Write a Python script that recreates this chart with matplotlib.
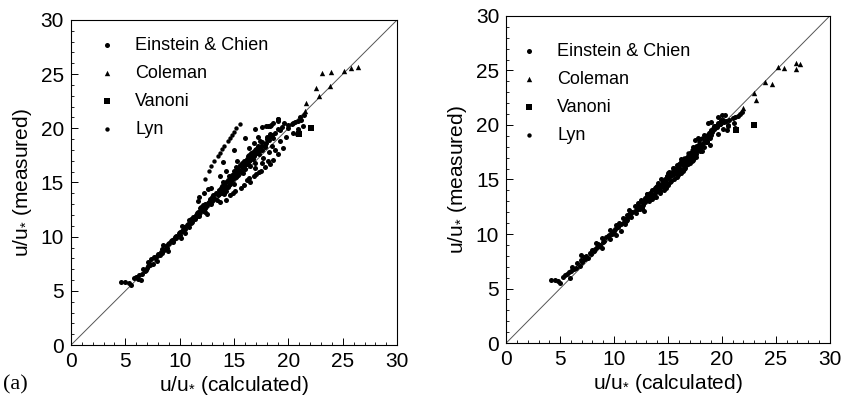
import numpy as np
import matplotlib
matplotlib.use("Agg")
import matplotlib.pyplot as plt

plt.rcParams['font.family'] = ['Liberation Sans', 'DejaVu Sans']
plt.rcParams['mathtext.fontset'] = 'custom'
plt.rcParams['mathtext.rm'] = 'Liberation Sans'
plt.rcParams['mathtext.it'] = 'Liberation Sans'

# Einstein & Chien: measured u/u*, calculated in (a) and (b)
ec_meas = [5.8, 5.8, 5.7, 5.5, 6.2, 6.1, 6.0, 6.6, 6.8, 7.0, 7.3, 7.6, 7.9, 8.0, 7.8,
           8.1, 7.5, 8.3, 8.6, 8.8, 9.0, 8.7, 9.2, 9.4, 9.6, 9.8, 9.5, 10.0, 10.2, 9.9,
           10.4, 10.6, 10.3, 10.8, 11.0, 11.1, 10.9, 11.3, 11.5, 11.6, 11.8, 12.0, 11.9, 12.2, 12.4,
           12.3, 12.6, 12.5, 12.8, 12.1, 12.9, 13.1, 13.0, 13.3, 13.5, 13.4, 13.7, 13.8, 14.0, 14.1,
           13.9, 14.3, 14.4, 14.2, 14.6, 14.7, 14.8, 15.0, 15.1, 14.9, 15.3, 15.4, 15.5, 15.6, 15.8,
           15.7, 16.0, 16.1, 15.9, 16.3, 16.4, 16.2, 16.6, 16.7, 16.5, 16.9, 17.0, 17.2, 16.8, 17.4,
           17.5, 17.7, 17.8, 17.6, 18.0, 18.2, 18.4, 18.6, 18.8, 18.5, 19.0, 19.3, 19.1, 19.6, 19.8,
           20.2, 20.3, 20.5, 20.7, 20.9, 20.4, 20.6, 20.8, 21.2, 20.0, 15.2, 15.6, 16.0, 16.4, 16.7,
           17.1, 17.6, 14.5, 14.0, 13.4, 18.2, 19.5, 19.7,
           6.3, 6.5, 6.9, 7.1, 7.4, 7.7, 8.2, 8.4, 8.5, 8.9, 9.1, 9.3, 9.7, 9.9, 10.1,
           10.3, 10.5, 10.7, 10.9, 11.2, 11.4, 11.6, 11.7, 11.9, 12.1, 12.3, 12.4, 12.6, 12.7, 12.9,
           13.0, 13.2, 13.3, 13.5, 13.6, 13.8, 13.9, 14.0, 14.2, 14.3, 14.5, 14.6, 14.8, 14.9, 15.0,
           15.2, 15.3, 15.5, 15.6, 15.7, 15.9, 16.0, 16.1, 16.2, 16.3, 16.4, 16.5, 16.6, 16.7, 16.8,
           16.9, 17.0, 17.1, 17.2, 17.3, 17.4, 17.5, 17.7, 17.8, 17.9, 18.0, 18.1, 18.3, 18.4, 18.6,
           18.7, 18.9, 19.2, 19.4, 19.9, 20.1, 20.3, 20.5, 20.7, 21.0,
           14.2, 14.8, 15.0, 15.4, 15.8, 16.1, 16.3, 16.8, 17.0, 17.3, 17.8, 18.0, 18.4, 18.8, 19.2,
           19.6, 19.9, 20.2, 13.8, 13.2,
           14.0, 14.4, 14.5, 13.7, 13.3, 15.6, 16.1, 16.9, 17.0, 18.0, 18.2, 19.1, 19.2, 19.9, 20.1,
           20.2, 20.2, 20.5, 20.9, 19.5]
ec_calc_a = [4.6, 5.0, 5.3, 5.5, 5.8, 6.2, 6.4, 6.5, 6.8, 6.6, 7.1, 7.2, 7.4, 7.7, 7.9,
             7.6, 7.5, 8.2, 8.3, 8.6, 8.8, 8.9, 8.5, 9.0, 9.2, 9.5, 9.4, 9.6, 10.0, 10.1,
             10.0, 10.3, 10.5, 10.4, 10.2, 10.7, 10.9, 11.0, 10.9, 11.4, 11.2, 11.5, 11.8, 11.6, 12.0,
             12.3, 11.9, 12.2, 12.4, 12.5, 12.1, 12.6, 12.9, 12.8, 13.1, 13.4, 13.0, 13.5, 13.3, 13.8,
             14.1, 13.6, 14.0, 14.3, 14.2, 13.9, 14.5, 14.3, 14.7, 15.0, 14.6, 14.9, 15.2, 14.5, 15.0,
             15.4, 15.1, 15.5, 15.8, 15.3, 15.7, 16.0, 15.9, 16.2, 16.5, 16.1, 16.4, 16.7, 16.9, 16.3,
             16.8, 16.6, 17.0, 17.3, 16.9, 17.2, 17.5, 16.8, 17.4, 17.8, 18.0, 18.3, 18.6, 18.8, 19.2,
             18.1, 18.4, 19.6, 19.0, 19.0, 20.3, 20.6, 21.2, 21.4, 20.0, 16.2, 16.8, 17.3, 17.8, 18.3,
             18.6, 19.0, 15.6, 14.9, 14.3, 19.5, 20.8, 21.0,
             6.0, 6.3, 6.9, 7.0, 7.3, 7.1, 7.9, 8.0, 8.4, 8.4, 8.7, 8.9, 9.3, 9.7, 9.7,
             9.9, 10.2, 10.5, 10.4, 10.8, 11.1, 11.0, 11.3, 11.6, 11.8, 11.7, 12.2, 12.3, 12.0, 12.5,
             12.3, 12.7, 13.0, 12.8, 13.2, 13.1, 13.6, 13.9, 13.7, 14.2, 13.8, 14.4, 14.1, 14.6, 14.0,
             14.4, 14.9, 14.7, 15.1, 14.8, 15.3, 15.6, 15.0, 15.4, 15.8, 15.2, 15.9, 15.5, 16.0, 15.7,
             16.3, 15.9, 16.5, 16.2, 16.6, 16.8, 16.4, 17.1, 16.7, 17.3, 17.6, 17.0, 17.8, 17.2, 17.9,
             17.6, 18.2, 18.0, 18.5, 19.0, 19.4, 20.0, 20.4, 20.9, 21.1,
             15.1, 15.9, 16.5, 16.4, 17.0, 17.5, 16.9, 17.6, 18.1, 17.7, 18.2, 18.8, 18.5, 19.2, 19.8,
             20.4, 20.9, 21.3, 14.6, 13.7,
             12.2, 12.6, 12.9, 11.8, 11.7, 13.7, 14.3, 14.0, 15.3, 15.0, 16.4, 16.0, 17.2, 16.9, 17.6,
             17.9, 18.3, 18.6, 19.0, 18.3]
ec_calc_b = [4.2, 4.5, 4.8, 5.0, 5.5, 5.3, 5.9, 6.0, 6.3, 6.1, 6.6, 6.9, 7.2, 7.4, 7.6,
             6.9, 7.0, 7.8, 8.2, 8.4, 8.7, 8.9, 8.3, 9.1, 8.9, 9.4, 9.6, 9.8, 9.9, 10.2,
             9.6, 10.4, 10.6, 10.2, 10.5, 10.9, 11.0, 11.2, 10.8, 11.3, 11.5, 11.7, 12.0, 11.4, 12.1,
             12.4, 11.9, 12.6, 12.2, 12.8, 12.9, 12.5, 13.2, 13.0, 13.4, 13.7, 13.1, 13.8, 13.5, 14.0,
             14.3, 13.9, 14.5, 14.2, 14.6, 14.1, 14.8, 14.7, 15.0, 15.3, 14.9, 15.4, 15.6, 15.0, 15.5,
             15.9, 15.7, 16.0, 16.2, 15.8, 16.3, 16.5, 16.4, 16.8, 17.0, 16.6, 16.9, 17.2, 17.3, 17.0,
             17.5, 17.3, 17.8, 18.0, 17.6, 17.9, 18.3, 17.5, 17.8, 18.6, 18.4, 18.8, 19.0, 19.3, 19.5,
             18.7, 19.0, 19.9, 19.6, 20.0, 20.4, 21.0, 21.5, 21.9, 20.6, 15.8, 16.2, 16.5, 16.9, 17.2,
             17.6, 18.2, 15.0, 14.6, 13.9, 18.9, 20.5, 21.2,
             5.6, 5.8, 6.5, 6.8, 7.0, 7.3, 7.9, 8.1, 8.0, 8.6, 8.5, 9.0, 9.3, 9.5, 9.8,
             10.0, 10.1, 10.4, 10.6, 11.1, 11.0, 11.6, 11.2, 11.5, 11.9, 12.2, 12.6, 12.3, 12.7, 12.6,
             12.8, 13.1, 13.4, 13.2, 13.6, 13.3, 13.9, 14.2, 13.8, 14.4, 14.3, 14.9, 14.5, 14.6, 14.4,
             15.1, 15.2, 15.3, 15.7, 15.1, 15.6, 16.1, 15.9, 15.9, 16.4, 16.0, 16.6, 16.2, 16.7, 16.5,
             17.0, 16.7, 17.2, 16.9, 17.4, 17.1, 17.6, 17.7, 17.4, 17.9, 18.1, 17.7, 18.2, 18.5, 18.4,
             18.0, 18.7, 18.9, 19.1, 19.4, 19.8, 20.2, 20.7, 21.2, 21.7,
             14.8, 15.2, 15.6, 15.9, 16.4, 16.6, 16.7, 17.1, 17.4, 17.6, 18.0, 18.3, 18.6, 18.9, 19.6,
             20.1, 20.6, 21.1, 14.3, 13.5,
             13.8, 14.0, 14.3, 13.1, 12.9, 15.1, 15.5, 16.2, 16.8, 17.3, 17.9, 18.3, 18.8, 19.3, 19.8,
             19.6, 19.9, 20.1, 20.3, 19.0]

# Coleman
col_meas = [21.6, 22.3, 22.95, 23.75, 23.9, 25.1, 25.2, 25.3, 25.6, 25.7]
col_calc_a = [21.5, 21.6, 22.85, 22.5, 23.8, 23.1, 23.9, 25.15, 25.8, 26.4]
col_calc_b = [22.0, 23.2, 23.0, 24.6, 24.0, 26.9, 25.8, 25.2, 27.2, 26.9]

# Vanoni
van_meas = [20.0, 19.5]
van_calc_a = [22.1, 21.0]
van_calc_b = [23.0, 21.3]

# Lyn
lyn_meas = [15.3, 16.1, 16.5, 17.0, 17.4, 17.7, 18.1, 18.4, 18.8, 19.1, 19.4, 19.7, 20.0, 20.4]
lyn_calc_a = [12.3, 12.7, 12.9, 13.2, 13.5, 13.7, 13.9, 14.1, 14.4, 14.6, 14.8, 15.0, 15.2, 15.5]
lyn_calc_b = [14.9, 15.6, 16.1, 16.5, 16.9, 17.2, 17.6, 17.9, 18.2, 18.6, 18.9, 19.2, 19.5, 19.9]

ticks = [0, 5, 10, 15, 20, 25, 30]
ulabel = r'u/u$_{*}$'

fig = plt.figure(figsize=(8.45, 3.98), dpi=100)
ax_a = fig.add_axes([0.084, 0.133, 0.386, 0.817])
ax_b = fig.add_axes([0.599, 0.138, 0.383, 0.822])

# legend anchors (axes coords) differ a little between panels
panels = [(ax_a, ec_calc_a, col_calc_a, van_calc_a, lyn_calc_a, (0.061, 0.970)),
          (ax_b, ec_calc_b, col_calc_b, van_calc_b, lyn_calc_b, (0.021, 0.939))]

for ax, ecx, colx, vanx, lynx, anchor in panels:
    ax.plot([0, 30], [0, 30], color='#555555', lw=0.7, zorder=1)
    ax.scatter(ecx, ec_meas, s=13, marker='o', color='black', lw=0, label='Einstein & Chien', zorder=2)
    ax.scatter(colx, col_meas, s=15, marker='^', color='black', lw=0, label='Coleman', zorder=2)
    ax.scatter(vanx, van_meas, s=18, marker='s', color='black', lw=0, label='Vanoni', zorder=2)
    ax.scatter(lynx, lyn_meas, s=10, marker='o', color='black', lw=0, label='Lyn', zorder=2)
    ax.set_xlim(0, 30)
    ax.set_ylim(0, 30)
    ax.set_xticks(ticks)
    ax.set_yticks(ticks)
    ax.set_xticks(np.arange(0, 31, 1), minor=True)
    ax.set_yticks(np.arange(0, 31, 1), minor=True)
    ax.tick_params(which='major', direction='in', length=5, width=0.7, labelsize=15, pad=5)
    ax.tick_params(which='minor', direction='in', length=2.5, width=0.6)
    for sp in ax.spines.values():
        sp.set_linewidth(0.8)
    ax.set_xlabel(ulabel + ' (calculated)', fontsize=15, labelpad=2)
    ax.set_ylabel(ulabel + ' (measured)', fontsize=15, labelpad=5)
    ax.legend(loc='upper left', bbox_to_anchor=anchor, frameon=False, fontsize=13,
              handletextpad=1.05, labelspacing=0.61, borderaxespad=0, handlelength=1.0)

fig.text(0.004, 0.008, '(a)', family='Liberation Serif', fontsize=16, va='bottom')

fig.savefig('out.png', dpi=100)
